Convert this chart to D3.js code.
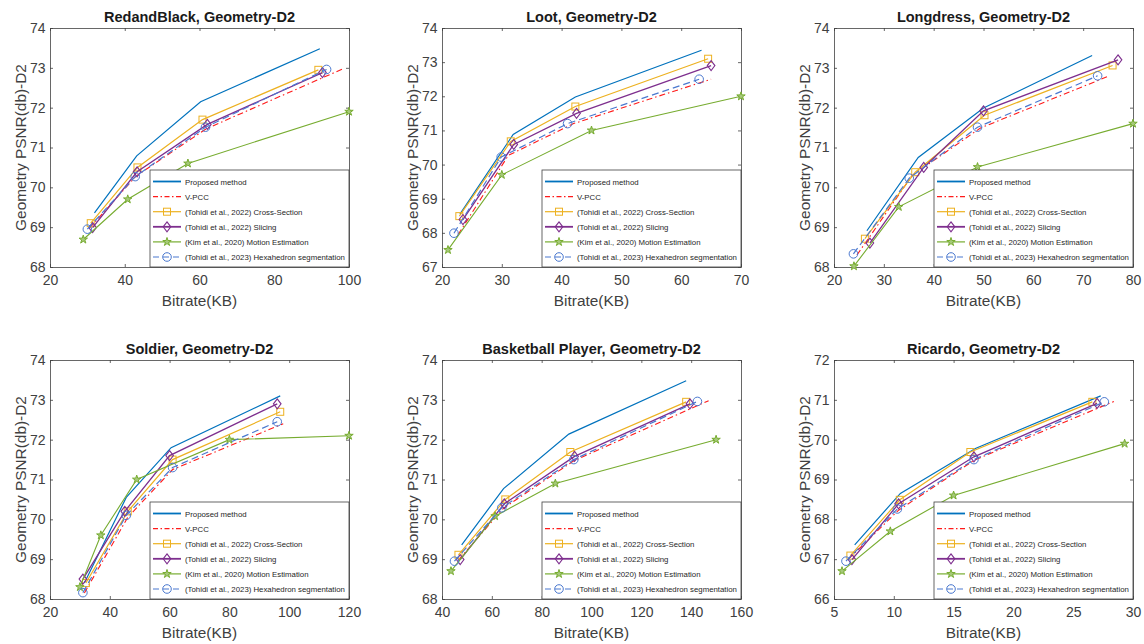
<!DOCTYPE html>
<html>
<head>
<meta charset="utf-8">
<script src="https://cdn.jsdelivr.net/npm/d3@7"></script>
<style>
  body { margin: 0; background: #fff; }
  svg { display: block; }
  text { font-family: "Liberation Sans", Arial, Helvetica, sans-serif; }
</style>
</head>
<body>
<div id="chart"></div>
<script>
// ---- data ----
const methodNames = [
  "Proposed method",
  "V-PCC",
  "(Tohidi et al., 2022) Cross-Section",
  "(Tohidi et al., 2022) Slicing",
  "(Kim et al., 2020) Motion Estimation",
  "(Tohidi et al., 2023) Hexahedron segmentation"
];

const panelTitles = [
  "RedandBlack, Geometry-D2", "Loot, Geometry-D2", "Longdress, Geometry-D2",
  "Soldier, Geometry-D2", "Basketball Player, Geometry-D2", "Ricardo, Geometry-D2"
];

const xDomains = [[20, 100], [20, 70], [20, 80], [20, 120], [40, 160], [5, 30]];
const xTickValues = [
  [20, 40, 60, 80, 100],
  [20, 30, 40, 50, 60, 70],
  [20, 30, 40, 50, 60, 70, 80],
  [20, 40, 60, 80, 100, 120],
  [40, 60, 80, 100, 120, 140, 160],
  [5, 10, 15, 20, 25, 30]
];
const yDomains = [[68, 74], [67, 74], [68, 74], [68, 74], [68, 74], [66, 72]];

// series order follows methodNames: [bitrate KB, PSNR dB]
const redandBlack = [
  [[31.9, 69.36], [43.2, 70.79], [60.3, 72.15], [92.2, 73.48]],
  [[30.5, 68.97], [43.0, 70.28], [61.8, 71.47], [98.5, 72.98]],
  [[30.9, 69.10], [43.4, 70.50], [60.8, 71.70], [91.8, 72.95]],
  [[31.4, 68.99], [43.3, 70.39], [62.1, 71.58], [92.9, 72.88]],
  [[28.9, 68.69], [40.8, 69.70], [56.9, 70.60], [100, 71.90]],
  [[30.0, 68.95], [42.8, 70.27], [61.6, 71.51], [94.0, 72.96]]
];
const loot = [
  [[23.0, 68.55], [31.9, 70.88], [42.3, 71.98], [63.4, 73.35]],
  [[22.7, 67.95], [31.1, 70.27], [42.0, 71.20], [65.0, 72.50]],
  [[22.9, 68.49], [31.5, 70.68], [42.3, 71.70], [64.5, 73.10]],
  [[23.5, 68.39], [32.0, 70.59], [42.5, 71.50], [65.0, 72.90]],
  [[21.0, 67.50], [30.0, 69.70], [45.0, 71.00], [70.0, 72.00]],
  [[22.0, 67.99], [29.9, 70.22], [41.0, 71.20], [63.0, 72.50]]
];
const longdress = [
  [[26.6, 68.91], [36.9, 70.75], [50.0, 71.99], [71.8, 73.31]],
  [[24.6, 68.30], [35.7, 70.30], [49.4, 71.49], [75.3, 72.80]],
  [[26.2, 68.71], [36.3, 70.38], [50.2, 71.81], [75.9, 73.06]],
  [[27.2, 68.60], [38.0, 70.50], [50.0, 71.92], [77.0, 73.20]],
  [[24.0, 68.02], [33.0, 69.51], [48.8, 70.51], [80.0, 71.60]],
  [[23.9, 68.33], [35.1, 70.23], [48.8, 71.51], [72.9, 72.80]]
];
const soldier = [
  [[31.5, 68.40], [45.5, 70.55], [60.5, 71.80], [97.0, 73.10]],
  [[31.5, 68.15], [46.0, 70.05], [61.0, 71.25], [98.0, 72.40]],
  [[32.0, 68.40], [46.0, 70.20], [61.0, 71.50], [97.0, 72.70]],
  [[31.0, 68.50], [45.0, 70.20], [60.0, 71.60], [96.0, 72.90]],
  [[30.0, 68.30], [37.0, 69.60], [49.0, 71.00], [80.0, 72.00], [120, 72.10]],
  [[31.0, 68.16], [45.5, 70.10], [61.0, 71.30], [96.0, 72.45]]
];
const basketball = [
  [[47.9, 69.36], [64.7, 70.77], [90.9, 72.14], [138.0, 73.48]],
  [[46.5, 68.97], [64.7, 70.28], [92.9, 71.47], [147.0, 72.98]],
  [[46.6, 69.11], [65.4, 70.50], [91.5, 71.69], [138.0, 72.95]],
  [[47.3, 68.99], [65.0, 70.39], [93.2, 71.58], [139.5, 72.90]],
  [[43.6, 68.70], [61.3, 70.08], [85.5, 70.90], [150.0, 72.00]],
  [[45.0, 68.95], [64.0, 70.29], [92.9, 71.50], [142.5, 72.96]]
];
const ricardo = [
  [[6.73, 67.36], [10.55, 68.65], [16.82, 69.78], [27.3, 71.10]],
  [[6.2, 67.00], [10.4, 68.23], [16.7, 69.48], [28.4, 70.96]],
  [[6.37, 67.09], [10.5, 68.49], [16.4, 69.69], [26.6, 70.95]],
  [[6.5, 66.99], [10.4, 68.39], [16.7, 69.57], [27.0, 70.91]],
  [[5.67, 66.70], [9.71, 67.70], [15.0, 68.60], [29.3, 69.90]],
  [[6.0, 66.95], [10.3, 68.26], [16.7, 69.50], [27.6, 70.95]]
];
const panelData = [redandBlack, loot, longdress, soldier, basketball, ricardo];

// ---- styling ----
const methodColors = ["#0072BD", "#FF1A1A", "#EDB120", "#7E2F8E", "#77AC30", "#4A78CF"];
const methodDash = [null, "6,3,1.5,3", null, null, null, "7,4"];
const methodMarker = [null, null, "square", "diamond", "star", "circle"];
const methodWidth = [1.2, 1.1, 1.2, 1.3, 1.1, 1.2];

const W = 1144, H = 644;
const axW = 299, axH = 239;
const colX = [50, 442, 834];
const rowY = [28, 360];
const AX = "#404040";

const svg = d3.select("#chart").append("svg").attr("width", W).attr("height", H);

function drawMarker(g, type, color, cx, cy) {
  if (type === "square") {
    g.append("rect").attr("x", cx - 3.5).attr("y", cy - 3.5).attr("width", 7).attr("height", 7)
      .attr("fill", "none").attr("stroke", color).attr("stroke-width", 1);
  } else if (type === "diamond") {
    g.append("path").attr("d", `M${cx},${cy - 5}L${cx + 3.8},${cy}L${cx},${cy + 5}L${cx - 3.8},${cy}Z`)
      .attr("fill", "none").attr("stroke", color).attr("stroke-width", 1.1);
  } else if (type === "star") {
    g.append("path").attr("d", d3.symbol(d3.symbolStar, 22)())
      .attr("transform", `translate(${cx},${cy})`)
      .attr("fill", "#a6c97a").attr("stroke", color).attr("stroke-width", 1);
  } else if (type === "circle") {
    g.append("circle").attr("cx", cx).attr("cy", cy).attr("r", 4.3)
      .attr("fill", "none").attr("stroke", color).attr("stroke-width", 1);
  }
}

panelData.forEach((series, p) => {
  const left = colX[p % 3], top = rowY[Math.floor(p / 3)];
  const g = svg.append("g").attr("transform", `translate(${left},${top})`);

  const x = d3.scaleLinear().domain(xDomains[p]).range([0, axW]);
  const y = d3.scaleLinear().domain(yDomains[p]).range([axH, 0]);
  const yTicks = d3.range(yDomains[p][0], yDomains[p][1] + 1);

  // axes (MATLAB style: inward ticks, box on)
  const styleAxis = sel => {
    sel.select(".domain").attr("stroke", AX).attr("stroke-width", 0.8);
    sel.selectAll(".tick line").attr("stroke", AX).attr("stroke-width", 0.8);
    sel.selectAll(".tick text").attr("fill", AX).attr("font-size", 14)
      .attr("font-family", "'Liberation Sans', Arial, sans-serif");
  };
  g.append("g").attr("transform", `translate(0,${axH})`)
    .call(d3.axisBottom(x).tickValues(xTickValues[p]).tickSize(-3).tickSizeOuter(0).tickPadding(8.5))
    .call(styleAxis);
  g.append("g")
    .call(d3.axisTop(x).tickValues(xTickValues[p]).tickSize(-3).tickSizeOuter(0).tickFormat(""))
    .call(styleAxis);
  g.append("g")
    .call(d3.axisLeft(y).tickValues(yTicks).tickSize(-3).tickSizeOuter(0).tickPadding(4.5).tickFormat(d3.format("d")))
    .call(styleAxis);
  g.append("g").attr("transform", `translate(${axW},0)`)
    .call(d3.axisRight(y).tickValues(yTicks).tickSize(-3).tickSizeOuter(0).tickFormat(""))
    .call(styleAxis);

  // title and labels
  g.append("text").attr("x", axW / 2).attr("y", -6).attr("text-anchor", "middle")
    .attr("font-size", 14.5).attr("font-weight", "bold").attr("fill", "#1a1a1a")
    .text(panelTitles[p]);
  g.append("text").attr("x", axW / 2).attr("y", axH + 38.5).attr("text-anchor", "middle")
    .attr("font-size", 15.4).attr("fill", AX).text("Bitrate(KB)");
  g.append("text").attr("transform", `translate(-24,${axH / 2}) rotate(-90)`)
    .attr("text-anchor", "middle").attr("font-size", 15.4).attr("fill", AX)
    .text("Geometry PSNR(db)-D2");

  // series
  const line = d3.line().x(d => x(d[0])).y(d => y(d[1]));
  series.forEach((pts, m) => {
    const sg = g.append("g");
    sg.append("path").attr("d", line(pts))
      .attr("fill", "none").attr("stroke", methodColors[m])
      .attr("stroke-width", methodWidth[m])
      .attr("stroke-dasharray", methodDash[m]);
    if (methodMarker[m]) {
      pts.forEach(d => drawMarker(sg, methodMarker[m], methodColors[m], x(d[0]), y(d[1])));
    }
  });

  // legend, bottom-right inside the axes
  const lw = 199, lh = 97;
  const lg = g.append("g").attr("transform", `translate(${axW - lw},${axH - lh})`);
  lg.append("rect").attr("width", lw).attr("height", lh)
    .attr("fill", "#fff").attr("stroke", "#404040").attr("stroke-width", 0.8);
  methodNames.forEach((name, m) => {
    const cy = 11.5 + m * 15.1;
    lg.append("line").attr("x1", 3).attr("x2", 31).attr("y1", cy).attr("y2", cy)
      .attr("stroke", methodColors[m]).attr("stroke-width", m === 0 || m === 3 ? 1.8 : 1.2)
      .attr("stroke-dasharray", methodDash[m] ? (m === 1 ? "5,2.5,1.5,2.5" : "6,4") : null);
    if (methodMarker[m]) drawMarker(lg, methodMarker[m], methodColors[m], 17, cy);
    lg.append("text").attr("x", 35).attr("y", cy + 3).attr("font-size", 7.8)
      .attr("fill", "#262626").text(name);
  });
});
</script>
</body>
</html>
